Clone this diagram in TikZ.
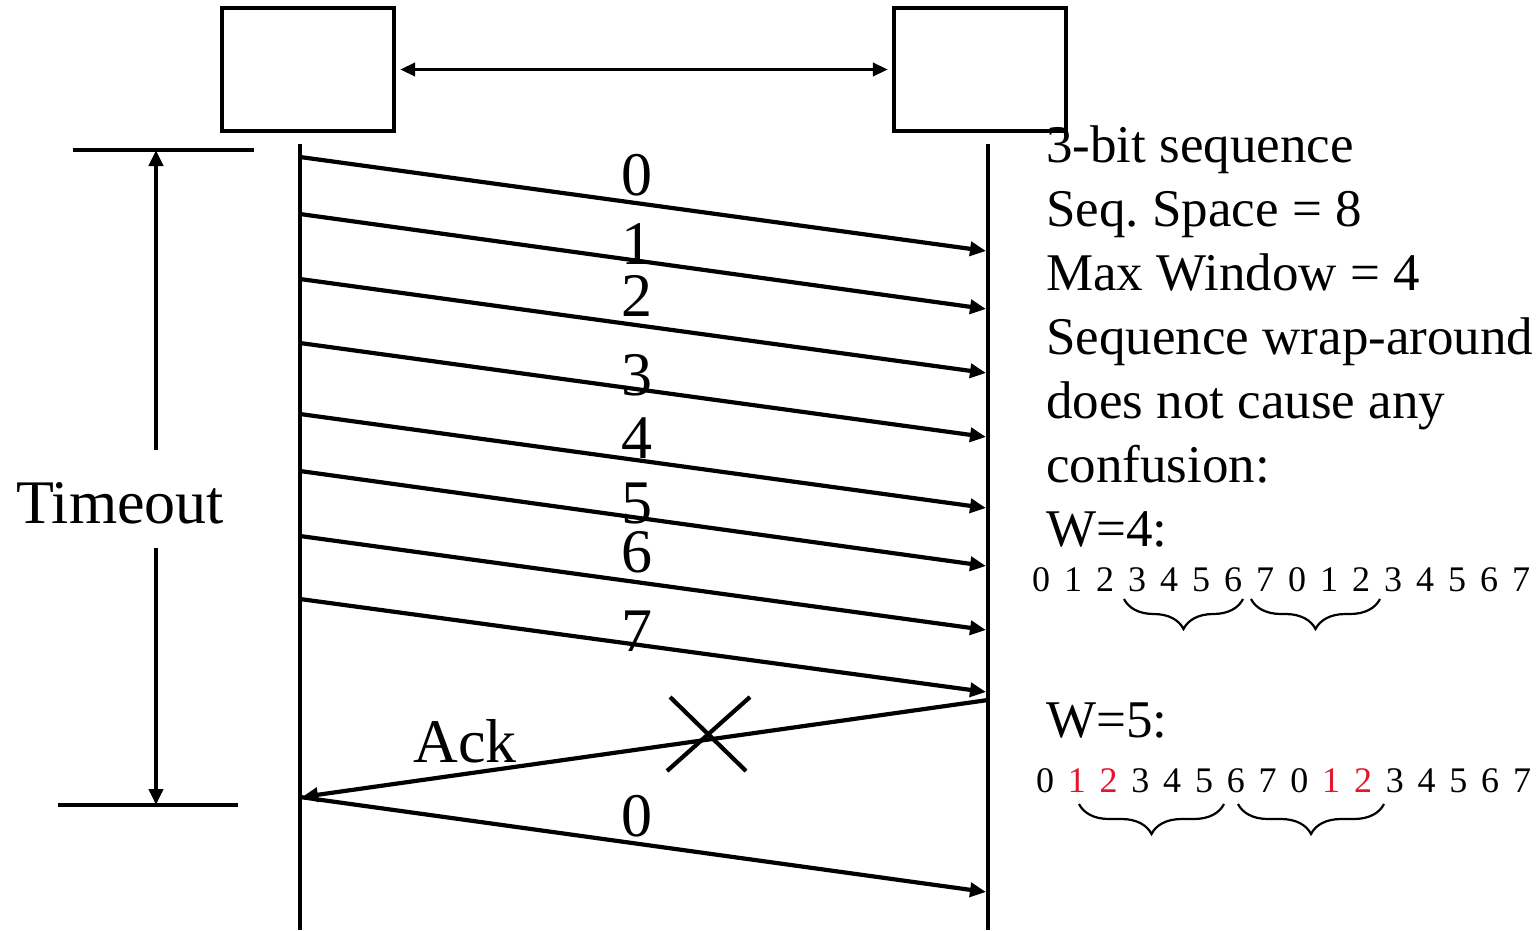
\documentclass[tikz,border=0pt]{standalone}
\usepackage{fontspec}
\setmainfont{Liberation Serif}
\usetikzlibrary{arrows.meta,decorations.pathreplacing}
\definecolor{seqred}{RGB}{230,20,45}
\frenchspacing
\begin{document}
\begin{tikzpicture}[x=1pt,y=-1pt,
  thick line/.style={line width=4.2pt},
  msg/.style={line width=4.2pt,-{Triangle[length=16pt,width=14pt]}},
  biglabel/.style={font=\fontsize{62}{70}\selectfont,inner sep=0pt,anchor=base},
  sidetext/.style={font=\fontsize{53}{60}\selectfont,inner sep=0pt,anchor=base west},
  digit/.style={font=\fontsize{36}{40}\selectfont,inner sep=0pt,anchor=base},
  bracedec/.style={line width=2.2pt,decorate,decoration={brace,mirror,amplitude=30pt}},
  entity/.style={draw,line width=4.2pt,minimum width=172pt,minimum height=123pt,inner sep=0pt}]
\useasboundingbox (0,0) rectangle (1539,930);
% entities
\node[entity] (A) at (308,69.5) {};
\node[entity] (B) at (980,69.5) {};
\draw[line width=3.5pt,{Triangle[length=15pt,width=13pt]}-{Triangle[length=15pt,width=13pt]}] (A.east) ++(4,0) coordinate (a1) (B.west) ++(-4,0) coordinate (b1) (a1) -- (b1);
% timelines
\coordinate (LT) at (300,144); \coordinate (LB) at (300,930);
\coordinate (RT) at (988,144); \coordinate (RB) at (988,930);
\draw[thick line] (LT) -- (LB);
\draw[thick line] (RT) -- (RB);
% timeout
\coordinate (t1a) at (73,150); \coordinate (t1b) at (254,150);
\coordinate (t2a) at (58,805); \coordinate (t2b) at (238,805);
\draw[thick line] (t1a) -- (t1b);
\draw[thick line] (t2a) -- (t2b);
\node[biglabel] (TO) at (120,523) {Timeout};
\coordinate (tv1) at (156,450); \coordinate (tv1e) at (156,150);
\coordinate (tv2) at (156,548); \coordinate (tv2e) at (156,805);
\draw[msg] (tv1) -- (tv1e);
\draw[msg] (tv2) -- (tv2e);
% frames
\foreach \i/\ys/\ye/\lb/\lbl in {0/157/251/195/0, 1/214/309/264/1, 2/279/373/316/2, 3/343/437/395/3, 4/414/508/458/4, 5/471/566/523/5, 6/536/630/572/6, 7/599/692/651/7}{
  \coordinate (s\i) at (300,\ys);
  \coordinate (r\i) at (986,\ye);
  \draw[msg] (s\i) -- (r\i);
  \node[biglabel] (lab\i) at (637,\lb) {\lbl};
}
% ack
\coordinate (ackS) at (988,700);
\coordinate (ackE) at (302,797);
\draw[msg] (ackS) -- (ackE);
\node[biglabel] (ack) at (465,762) {Ack};
\coordinate (x1) at (670,697); \coordinate (x2) at (746,771);
\coordinate (x3) at (750,697); \coordinate (x4) at (667,771);
\draw[thick line] (x1) -- (x2);
\draw[thick line] (x3) -- (x4);
% retransmit
\coordinate (s8) at (300,797);
\coordinate (r8) at (986,892);
\draw[msg] (s8) -- (r8);
\node[biglabel] (lab8) at (637,836) {0};
% side text
\node[sidetext] (l1) at (1046,162) {3-bit sequence};
\node[sidetext] (l2) at (1046,226) {Seq. Space = 8};
\node[sidetext] (l3) at (1046,290) {Max Window = 4};
\node[sidetext] (l4) at (1046,354) {Sequence wrap-around};
\node[sidetext] (l5) at (1046,418) {does not cause any};
\node[sidetext] (l6) at (1046,482) {confusion:};
\node[sidetext] (w4) at (1046,546) {W=4:};
\node[sidetext] (w5) at (1046,737) {W=5:};
% sequences
\foreach \d [count=\k from 0] in {0,1,2,3,4,5,6,7,0,1,2,3,4,5,6,7}{
  \node[digit] (a\k) at ({1041+32*\k},591) {\d};
}
\foreach \d/\c [count=\k from 0] in {0/black,1/seqred,2/seqred,3/black,4/black,5/black,6/black,7/black,0/black,1/seqred,2/seqred,3/black,4/black,5/black,6/black,7/black}{
  \node[digit,text=\c] (b\k) at ({1045+31.8*\k},792) {\d};
}
% braces
\coordinate (ba1) at (1124,599); \coordinate (ba2) at (1243,599);
\coordinate (ba3) at (1251,599); \coordinate (ba4) at (1380,599);
\coordinate (bb1) at (1079,804); \coordinate (bb2) at (1224,804);
\coordinate (bb3) at (1238,804); \coordinate (bb4) at (1384,804);
\draw[bracedec] (ba1) -- (ba2);
\draw[bracedec] (ba3) -- (ba4);
\draw[bracedec] (bb1) -- (bb2);
\draw[bracedec] (bb3) -- (bb4);
\end{tikzpicture}
\end{document}
